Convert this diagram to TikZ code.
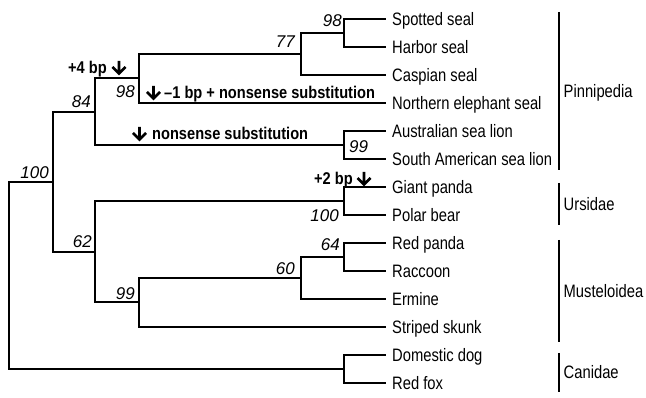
\documentclass[tikz,border=0pt]{standalone}
\usepackage{fontspec}
\setmainfont{Liberation Sans}
\newfontfamily\narrowsans[FakeStretch=0.82]{Liberation Sans}
\newfontfamily\notesans[FakeStretch=0.86]{Liberation Sans}
\usetikzlibrary{calc}

\begin{document}
\begin{tikzpicture}[x=1pt,y=-1pt,
  branch/.style={line width=2pt, line join=miter},
  clade/.style={line width=2pt},
  leaf/.style={anchor=west, inner xsep=6pt, inner ysep=0pt,
    font=\narrowsans\fontsize{18}{20}\selectfont,
    text height=12.9pt, text depth=0pt},
  cladename/.style={leaf, inner xsep=4.5pt},
  boot/.style={inner sep=0pt, font=\fontsize{17}{19}\selectfont\itshape,
    text height=12.2pt, text depth=0pt},
  note/.style={inner sep=0pt, font=\notesans\bfseries\fontsize{17}{19}\selectfont,
    text height=12.2pt, text depth=0pt},
  dnarrow/.pic={\draw[line width=2.8pt, line join=miter, line cap=butt]
      (0,0) -- (0,12.5) (-6.5,6) -- (0,12.5) -- (6.5,6);}
]
\fill[white] (0,0) rectangle (646,398);
\useasboundingbox (0,0) rectangle (646,398);

% taxa
\node[leaf] (spotted)    at (386, 19) {Spotted seal};
\node[leaf] (harbor)     at (386, 47) {Harbor seal};
\node[leaf] (caspian)    at (386, 75) {Caspian seal};
\node[leaf] (northern)   at (386,103) {Northern elephant seal};
\node[leaf] (australian) at (386,131) {Australian sea lion};
\node[leaf] (southam)    at (386,159) {South American sea lion};
\node[leaf] (giant)      at (386,187) {Giant panda};
\node[leaf] (polar)      at (386,215) {Polar bear};
\node[leaf] (redpanda)   at (386,243) {Red panda};
\node[leaf] (raccoon)    at (386,271) {Raccoon};
\node[leaf] (ermine)     at (386,299) {Ermine};
\node[leaf] (skunk)      at (386,327) {Striped skunk};
\node[leaf] (dog)        at (386,355) {Domestic dog};
\node[leaf] (fox)        at (386,383) {Red fox};

% internal nodes (x = branch point, y = middle of its children)
\coordinate (nSH)  at (344, 33);
\coordinate (n77)  at (301, 54);
\coordinate (n98b) at (139, 78.5);
\coordinate (nSL)  at (344,145);
\coordinate (n84)  at ( 95,111.75);
\coordinate (nUrs) at (344,201);
\coordinate (nRR)  at (344,257);
\coordinate (n60)  at (301,278);
\coordinate (n99)  at (139,302.5);
\coordinate (n62)  at ( 95,251.75);
\coordinate (n100) at ( 53,181.75);
\coordinate (nCan) at (344,369);
\coordinate (root) at (  9,275);

% branches
\draw[branch] (root) |- (n100)  (root) |- (nCan);
\draw[branch] (n100) |- (n84)   (n100) |- (n62);
\draw[branch] (n84)  |- (n98b)  (n84)  |- (nSL);
\draw[branch] (n98b) |- (n77)   (n98b) |- (northern.west);
\draw[branch] (n77)  |- (nSH)   (n77)  |- (caspian.west);
\draw[branch] (nSH)  |- (spotted.west)    (nSH) |- (harbor.west);
\draw[branch] (nSL)  |- (australian.west) (nSL) |- (southam.west);
\draw[branch] (n62)  |- (nUrs)  (n62)  |- (n99);
\draw[branch] (nUrs) |- (giant.west)    (nUrs) |- (polar.west);
\draw[branch] (n99)  |- (n60)   (n99)  |- (skunk.west);
\draw[branch] (n60)  |- (nRR)   (n60)  |- (ermine.west);
\draw[branch] (nRR)  |- (redpanda.west) (nRR) |- (raccoon.west);
\draw[branch] (nCan) |- (dog.west)      (nCan) |- (fox.west);

% bootstrap support
\node[boot, anchor=south east] (b100)  at ([xshift=-4pt,yshift=3pt]n100) {100};
\node[boot, anchor=south east] (b84)   at ([xshift=-4pt,yshift=4pt]n84) {84};
\node[boot, anchor=north east] (b98b)  at ([xshift=-4pt,yshift=-7pt]n98b) {98};
\node[boot, anchor=south east] (b77)   at ([xshift=-6pt,yshift=6pt]n77) {77};
\node[boot, anchor=south east] (b98a)  at ([xshift=-2pt,yshift=6pt]nSH) {98};
\node[boot, anchor=west]       (b99a)  at ([xshift=5pt,yshift=-1.5pt]nSL) {99};
\node[boot, anchor=east]       (b100u) at ([xshift=-5pt]nUrs |- polar.west) {100};
\node[boot, anchor=east]       (b64)   at ([xshift=-4pt,yshift=-1.5pt]nRR |- redpanda.west) {64};
\node[boot, anchor=south east] (b60)   at ([xshift=-6pt,yshift=3pt]n60) {60};
\node[boot, anchor=south east] (b99b)  at ([xshift=-4pt,yshift=3pt]n99) {99};
\node[boot, anchor=south east] (b62)   at ([xshift=-3pt,yshift=4pt]n62) {62};

% indel / nonsense annotations
\node[note, anchor=east] (ins4) at (107,67.5) {+4 bp};
\pic at (119,61) {dnarrow};
\pic at (153.5,86) {dnarrow};
\node[note, anchor=west] (del1) at (164,92) {\textendash1 bp + nonsense substitution};
\pic at (139.5,127) {dnarrow};
\node[note, anchor=west] (nons) at (152,133.5) {nonsense substitution};
\node[note, anchor=east] (ins2) at (353,178.5) {+2 bp};
\pic at (364,172) {dnarrow};

% clade brackets
\coordinate (pinT) at (559, 12);  \coordinate (pinB) at (559,170);
\coordinate (ursT) at (559,183);  \coordinate (ursB) at (559,225);
\coordinate (musT) at (559,240);  \coordinate (musB) at (559,342);
\coordinate (canT) at (559,353);  \coordinate (canB) at (559,392);
\draw[clade] (pinT) -- (pinB);
\draw[clade] (ursT) -- (ursB);
\draw[clade] (musT) -- (musB);
\draw[clade] (canT) -- (canB);
\node[cladename] (pinn) at ($(pinT)!0.5!(pinB)$) {Pinnipedia};
\node[cladename] (urs)  at ($(ursT)!0.5!(ursB)$) {Ursidae};
\node[cladename] (must) at ($(musT)!0.5!(musB)$) {Musteloidea};
\node[cladename] (cani) at ($(canT)!0.5!(canB)$) {Canidae};
\end{tikzpicture}
\end{document}
